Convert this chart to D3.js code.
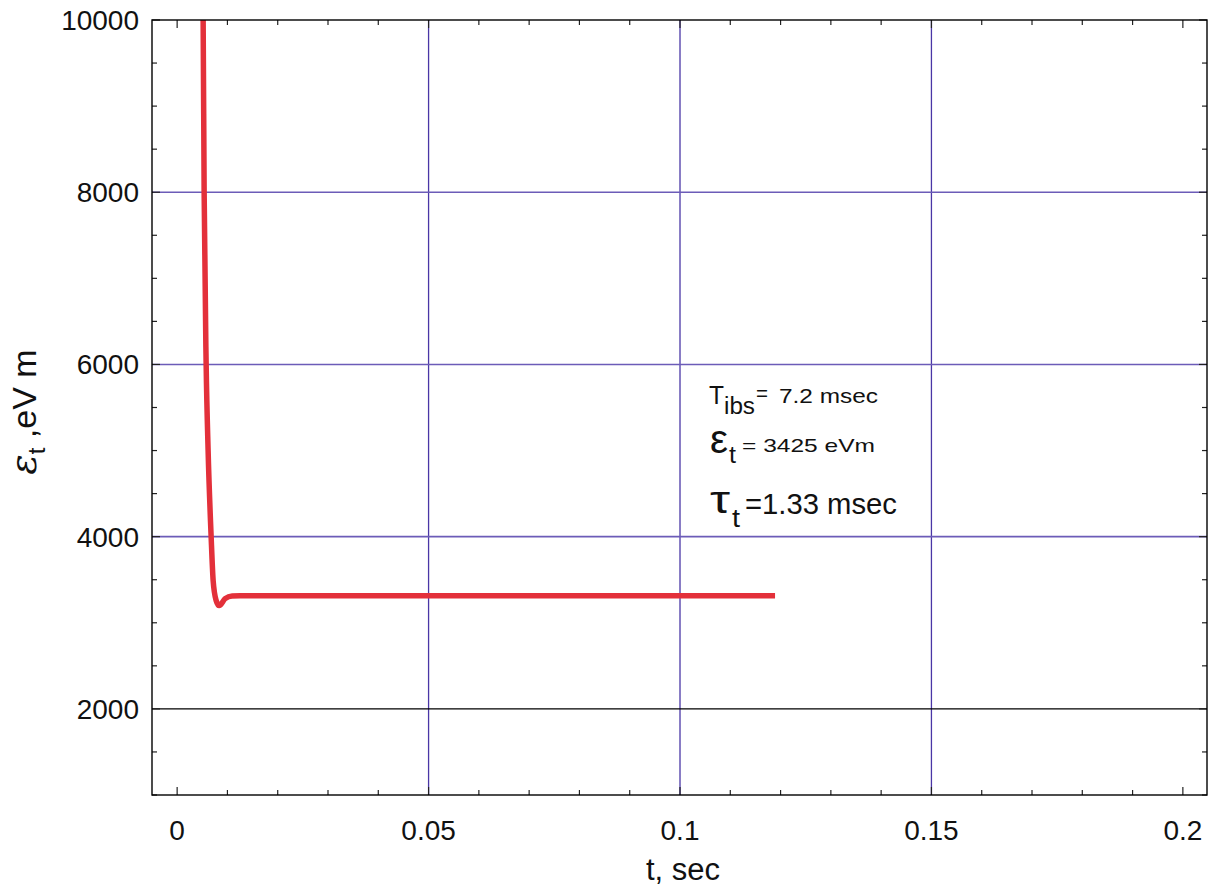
<!DOCTYPE html>
<html><head><meta charset="utf-8">
<script src="https://cdn.jsdelivr.net/npm/d3@7"></script>
<style>body{margin:0;background:#fff;} text{font-family:"Liberation Sans",Arial,sans-serif;}</style>
</head><body>
<svg id="c" width="1210" height="889"></svg>
<script>
// data (t in sec, emittance in eV m)
const tValues = [0.0050, 0.00517, 0.00537, 0.00577, 0.00616, 0.00676, 0.00716, 0.00775, 0.00835, 0.00954, 0.01093, 0.01252, 0.0300, 0.0600, 0.0900, 0.1189];
const epsValues = [10600, 10000, 8000, 6000, 5000, 4000, 3490, 3260, 3200, 3280, 3312, 3314, 3314, 3314, 3314, 3314];
const xTicks = [0, 0.05, 0.1, 0.15, 0.2];
const xTickLabels = ["0", "0.05", "0.1", "0.15", "0.2"];
const yTicks = [2000, 4000, 6000, 8000, 10000];
const yTickLabels = ["2000", "4000", "6000", "8000", "10000"];

const svg = d3.select("#c");
const L = 152, R = 1207, T = 20, B = 795;
const x = d3.scaleLinear().domain([-0.005, 0.2048]).range([L, R]);
const y = d3.scaleLinear().domain([1000, 10000]).range([B, T]);

const minorX = d3.range(0, 0.2001, 0.01);
const minorY = d3.range(1000, 10001, 500);

// gridlines
svg.append("g").selectAll("line").data(xTicks.filter(v => v > 0 && v < 0.2)).join("line")
  .attr("x1", d => x(d)).attr("x2", d => x(d)).attr("y1", T).attr("y2", B)
  .attr("stroke", "#4a36a6").attr("stroke-width", 1.3);
svg.append("g").selectAll("line").data(yTicks.filter(v => v > 2000 && v < 10000)).join("line")
  .attr("x1", L).attr("x2", R).attr("y1", d => y(d)).attr("y2", d => y(d))
  .attr("stroke", "#6c5cb8").attr("stroke-width", 1.6);
svg.append("line").attr("x1", L).attr("x2", R).attr("y1", y(2000)).attr("y2", y(2000))
  .attr("stroke", "#000").attr("stroke-width", 1.3);

// ticks
const tk = svg.append("g").attr("stroke", "#222").attr("stroke-width", 1.2);
minorX.forEach(v => {
  const major = Math.abs(Math.round(v * 100) % 5) === 0;
  const len = major ? 8 : 5;
  tk.append("line").attr("x1", x(v)).attr("x2", x(v)).attr("y1", B).attr("y2", B - len);
  tk.append("line").attr("x1", x(v)).attr("x2", x(v)).attr("y1", T).attr("y2", T + len);
});
minorY.forEach(v => {
  const len = (v % 2000 === 0) ? 8 : 5;
  tk.append("line").attr("x1", L).attr("x2", L + len).attr("y1", y(v)).attr("y2", y(v));
  tk.append("line").attr("x1", R).attr("x2", R - len).attr("y1", y(v)).attr("y2", y(v));
});

// curve
svg.append("clipPath").attr("id", "clip").append("rect")
  .attr("x", L).attr("y", T).attr("width", R - L).attr("height", B - T);
const pts = tValues.map((t, i) => [t, epsValues[i]]);
svg.append("path").datum(pts)
  .attr("clip-path", "url(#clip)")
  .attr("d", d3.line().x(d => x(d[0])).y(d => y(d[1])).curve(d3.curveMonotoneX))
  .attr("fill", "none").attr("stroke", "#e3303a").attr("stroke-width", 5.5)
  .attr("stroke-linejoin", "round");

// frame
svg.append("rect").attr("x", L).attr("y", T).attr("width", R - L).attr("height", B - T)
  .attr("fill", "none").attr("stroke", "#000").attr("stroke-width", 1.4);

// tick labels
svg.append("g").selectAll("text").data(xTicks).join("text")
  .attr("x", d => x(d)).attr("y", 840).attr("text-anchor", "middle")
  .attr("font-size", 28).attr("fill", "#111").text((d, i) => xTickLabels[i]);
svg.append("g").selectAll("text").data(yTicks).join("text")
  .attr("x", 139).attr("y", d => y(d) + 10).attr("text-anchor", "end")
  .attr("font-size", 28).attr("fill", "#111").text((d, i) => yTickLabels[i]);

// axis titles
svg.append("text").attr("x", 683).attr("y", 880).attr("text-anchor", "middle")
  .attr("font-size", 31).attr("fill", "#111").text("t, sec");
const yl = svg.append("text").attr("transform", "translate(36,412) rotate(-90)")
  .attr("text-anchor", "middle").attr("font-size", 34).attr("fill", "#111");
yl.append("tspan").attr("font-family", "DejaVu Serif").attr("font-style", "italic").attr("font-size", 38).text("ε");
yl.append("tspan").attr("dy", 9).attr("font-size", 24).text("t");
yl.append("tspan").attr("dy", -9).text(" ,eV m");

// annotation
function piece(txt, px, py, fs, len) {
  const t = svg.append("text").attr("x", px).attr("y", py).attr("font-size", fs).attr("fill", "#111").text(txt);
  if (len) t.attr("textLength", len).attr("lengthAdjust", "spacingAndGlyphs");
  return t;
}
piece("T", 709, 404, 26, 15);
piece("ibs", 724, 414, 23, 31);
piece("=", 756, 401, 22, 12);
piece("7.2 msec", 779, 403, 20, 99);

piece("ε", 710, 453, 40, 18);
piece("t", 729, 463, 24, 7);
piece("= 3425 eVm", 742, 452, 19, 133);

piece("τ", 710, 513, 38, 20);
piece("t", 732, 527, 26, 8);
piece("=1.33 msec", 745, 514, 30, 152);
</script>
</body></html>
